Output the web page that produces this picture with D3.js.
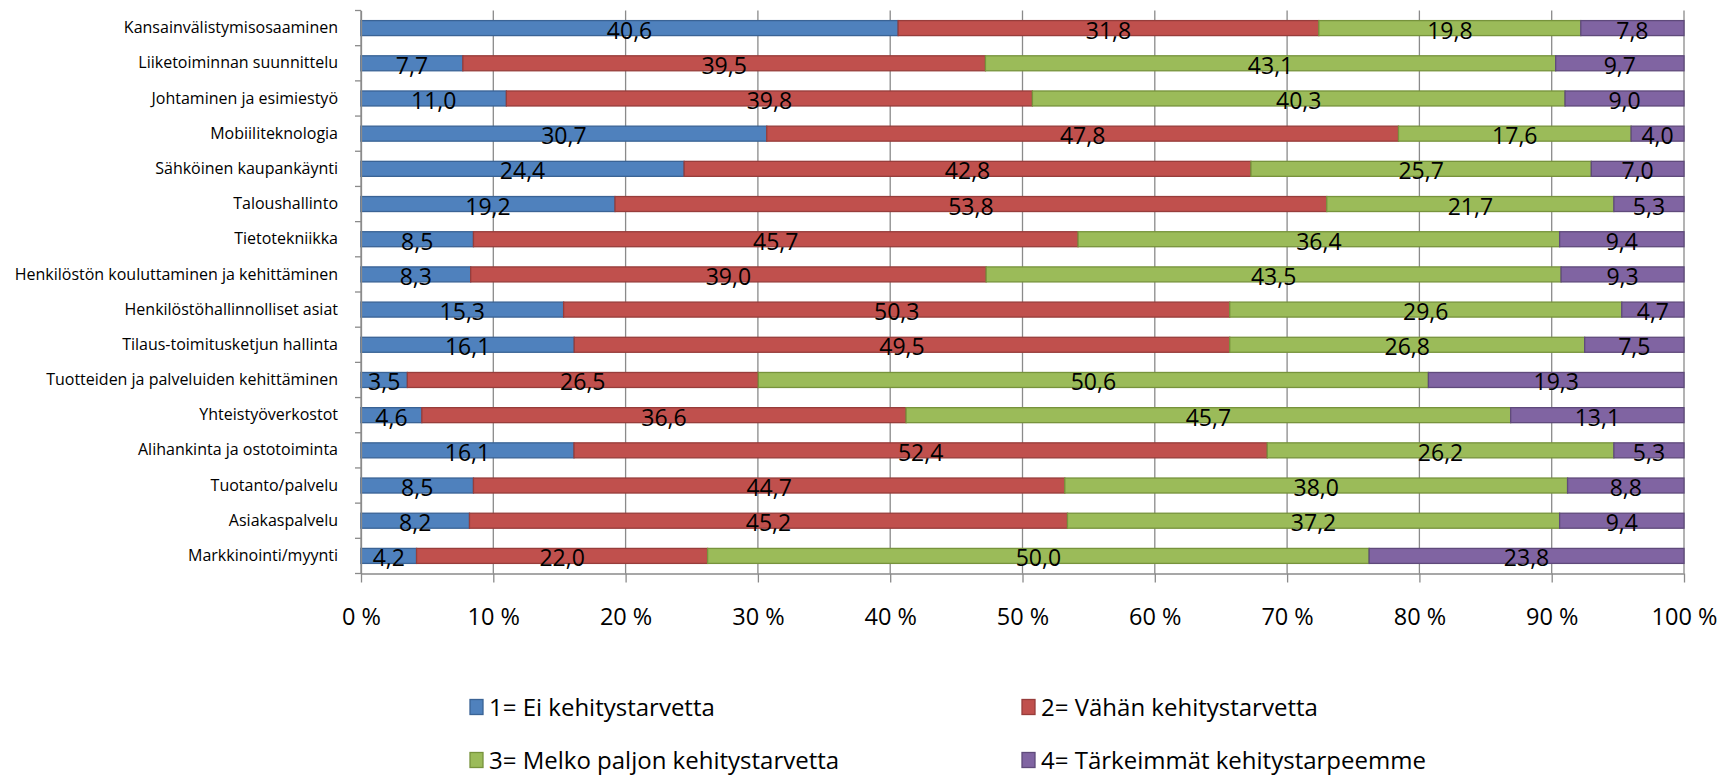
<!DOCTYPE html>
<html>
<head>
<meta charset="utf-8">
<script src="https://cdn.jsdelivr.net/npm/d3@7"></script>
<style>
  body { margin: 0; background: #fff; }
  svg { display: block; font-family: "Open Sans", Lato, sans-serif; }
</style>
</head>
<body>
<script>
var width = 1720,
  height = 776;

// categories, top to bottom
var categories = [
  "Kansainvälistymisosaaminen",
  "Liiketoiminnan suunnittelu",
  "Johtaminen ja esimiestyö",
  "Mobiiliteknologia",
  "Sähköinen kaupankäynti",
  "Taloushallinto",
  "Tietotekniikka",
  "Henkilöstön kouluttaminen ja kehittäminen",
  "Henkilöstöhallinnolliset asiat",
  "Tilaus-toimitusketjun hallinta",
  "Tuotteiden ja palveluiden kehittäminen",
  "Yhteistyöverkostot",
  "Alihankinta ja ostotoiminta",
  "Tuotanto/palvelu",
  "Asiakaspalvelu",
  "Markkinointi/myynti",
];

var seriesNames = [
  "1= Ei kehitystarvetta",
  "2= Vähän kehitystarvetta",
  "3= Melko paljon kehitystarvetta",
  "4= Tärkeimmät kehitystarpeemme",
];

var eiTarvetta = [40.6, 7.7, 11.0, 30.7, 24.4, 19.2, 8.5, 8.3, 15.3, 16.1, 3.5, 4.6, 16.1, 8.5, 8.2, 4.2];
var vahan = [31.8, 39.5, 39.8, 47.8, 42.8, 53.8, 45.7, 39.0, 50.3, 49.5, 26.5, 36.6, 52.4, 44.7, 45.2, 22.0];
var melkoPaljon = [19.8, 43.1, 40.3, 17.6, 25.7, 21.7, 36.4, 43.5, 29.6, 26.8, 50.6, 45.7, 26.2, 38.0, 37.2, 50.0];
var tarkeimmat = [7.8, 9.7, 9.0, 4.0, 7.0, 5.3, 9.4, 9.3, 4.7, 7.5, 19.3, 13.1, 5.3, 8.8, 9.4, 23.8];

var xTicks = [0, 10, 20, 30, 40, 50, 60, 70, 80, 90, 100];

var fills = ["#4F81BD", "#C0504D", "#9BBB59", "#8064A2"];
var strokes = ["#3A6395", "#973D3B", "#77933C", "#5F4A7B"];

var x0 = 361, x1 = 1684, y0 = 10.5, y1 = 573.5;

var svg = d3.select("body").append("svg")
  .attr("width", width)
  .attr("height", height);

// table for stacking, normalised like a 100 % stacked chart
var rows = categories.map(function (c, i) {
  var vals = [eiTarvetta[i], vahan[i], melkoPaljon[i], tarkeimmat[i]];
  var sum = d3.sum(vals);
  var r = { name: c, raw: vals };
  vals.forEach(function (v, k) { r["s" + k] = v / sum * 100; });
  return r;
});

var stacked = d3.stack().keys(["s0", "s1", "s2", "s3"])(rows);

var x = d3.scaleLinear().domain([0, 100]).range([x0, x1]);
var y = d3.scaleBand().domain(categories).range([y0, y1])
  .paddingInner(0.574).paddingOuter(0.287);

var axisColor = "#8A8A8A";

// vertical gridlines
svg.append("g")
  .selectAll("line")
  .data(xTicks)
  .enter()
  .append("line")
  .attr("x1", function (d) { return x(d); })
  .attr("x2", function (d) { return x(d); })
  .attr("y1", y0)
  .attr("y2", y1)
  .attr("stroke", axisColor)
  .attr("stroke-width", 1.3);

// x axis
var xAxis = svg.append("g")
  .attr("transform", "translate(0," + y1 + ")")
  .call(d3.axisBottom(x)
    .tickValues(xTicks)
    .tickSizeInner(9)
    .tickSizeOuter(0)
    .tickPadding(26)
    .tickFormat(function (d) { return d + " %"; }));
xAxis.select(".domain").attr("stroke", axisColor).attr("stroke-width", 1.3);
xAxis.selectAll(".tick line").attr("stroke", axisColor).attr("stroke-width", 1.3);
xAxis.selectAll(".tick text")
  .attr("fill", "#000")
  .style("font-family", "'Open Sans', sans-serif")
  .style("font-size", "23.5px");

// bars
var layer = svg.append("g")
  .selectAll("g")
  .data(stacked)
  .enter()
  .append("g")
  .attr("fill", function (d, i) { return fills[i]; })
  .attr("stroke", function (d, i) { return strokes[i]; });

layer.selectAll("rect")
  .data(function (d) { return d; })
  .enter()
  .append("rect")
  .attr("x", function (d) { return x(d[0]); })
  .attr("width", function (d) { return x(d[1]) - x(d[0]); })
  .attr("y", function (d) { return y(d.data.name); })
  .attr("height", y.bandwidth())
  .attr("stroke-width", 1.3);

// y axis line and ticks between categories
var yAxis = svg.append("g")
  .attr("transform", "translate(" + x0 + ",0)")
  .call(d3.axisLeft(y).tickSize(0).tickPadding(23));
yAxis.select(".domain").attr("stroke", axisColor).attr("stroke-width", 1.3);
yAxis.selectAll(".tick text")
  .attr("fill", "#000")
  .style("font-family", "'Open Sans', sans-serif")
  .style("font-size", "16px");

svg.append("g")
  .selectAll("line")
  .data(d3.range(categories.length + 1))
  .enter()
  .append("line")
  .attr("x1", x0 - 6)
  .attr("x2", x0)
  .attr("y1", function (i) { return y0 + i * y.step(); })
  .attr("y2", function (i) { return y0 + i * y.step(); })
  .attr("stroke", axisColor)
  .attr("stroke-width", 1.3);

// data labels
var fmt = function (v) { return v.toFixed(1).replace(".", ","); };
stacked.forEach(function (s, k) {
  svg.append("g")
    .selectAll("text")
    .data(s)
    .enter()
    .append("text")
    .attr("x", function (d) { return (x(d[0]) + x(d[1])) / 2; })
    .attr("y", function (d) { return y(d.data.name) + y.bandwidth() / 2 + 10.5; })
    .attr("text-anchor", "middle")
    .style("font-size", "23px")
    .attr("fill", "#000")
    .text(function (d) { return fmt(d.data.raw[k]); });
});

// legend
var legendPos = [[470, 707], [1022, 707], [470, 760], [1022, 760]];
var legend = svg.append("g")
  .selectAll("g")
  .data(seriesNames)
  .enter()
  .append("g")
  .attr("transform", function (d, i) {
    return "translate(" + legendPos[i][0] + "," + legendPos[i][1] + ")";
  });
legend.append("rect")
  .attr("x", 0)
  .attr("y", -7.5)
  .attr("width", 13)
  .attr("height", 15)
  .attr("fill", function (d, i) { return fills[i]; })
  .attr("stroke", function (d, i) { return strokes[i]; })
  .attr("stroke-width", 1.3);
legend.append("text")
  .attr("x", 19)
  .attr("y", 8.5)
  .style("font-size", "24px")
  .attr("fill", "#000")
  .text(function (d) { return d; });
</script>
</body>
</html>
